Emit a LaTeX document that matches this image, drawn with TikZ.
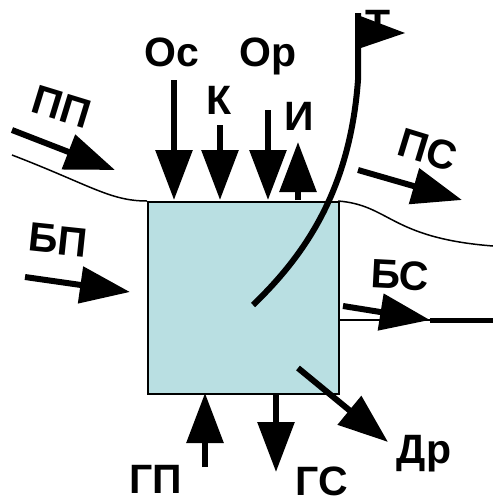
\documentclass[tikz,border=0pt]{standalone}
\usepackage{fontspec}
\setmainfont{Liberation Sans}
\usetikzlibrary{arrows.meta}
\definecolor{WBBox}{HTML}{B9DFE2}

\begin{document}
\begin{tikzpicture}[x=1pt,y=-1pt,font=\fontsize{41}{46}\selectfont\bfseries,
  flow/.style={line width=6pt,-{Triangle[length=50pt,width=36pt]}},
  lab/.style={inner sep=0pt,anchor=base}]
  \useasboundingbox (0,0) rectangle (493,499);
  % the water body and the ground surface
  \node[draw=black,line width=1.5pt,fill=WBBox,minimum width=191pt,minimum height=192pt,
        inner sep=0pt,anchor=north west] (box) at (147,201) {};
  \draw[line width=1.5pt] (12,155) .. controls (90,185) and (110,201) .. (147,201);
  \draw[line width=1.5pt] (338,201) .. controls (390,205) and (390,238) .. (493,246);
  % top inputs and evaporation
  \foreach \x/\y in {174/80,220/125,268/110}{
    \draw[flow] (\x,\y) -- (\x,200);
  }
  \draw[flow] (298,200) -- (298,142);
  \node[lab] (os) at (172,66) {Ос};
  \node[lab] (k) at (219,114) {К};
  \node[lab] (or) at (268,66) {Ор};
  \node[lab] (ii) at (299,130) {И};
  % surface and bank flows
  \draw[flow] (12,130) -- (115,170);
  \node[inner sep=0pt,rotate=-17] (pp) at (62,107) {ПП};
  \draw[flow] (358,170) -- (462,200);
  \node[inner sep=0pt,rotate=-17] (ps) at (428,150) {ПС};
  \draw[flow] (25,277) -- (130,292);
  \node[inner sep=0pt,rotate=-6] (bp) at (58,240) {БП};
  \draw[line width=1.5pt] (338,320) -- (430,320);
  \draw[line width=5pt] (430,320) -- (493,320);
  \draw[flow] (343,306) -- (430,320);
  \node[inner sep=0pt,rotate=-3] (bs) at (400,275) {БС};
  % groundwater and drainage
  \draw[flow] (205,467) -- (205,393);
  \draw[flow] (276,393) -- (276,472);
  \draw[flow] (298,368) -- (388,442);
  \node[lab] (gp) at (156,493) {ГП};
  \node[lab] (gs) at (322,495) {ГС};
  \node[lab] (dr) at (424,463) {Др};
  % flag
  \node[lab] (t) at (378,38) {Т};
  \draw[line width=6pt] (358,13) -- (358,80) .. controls (350,190) and (305,255) .. (253,305);
  \fill (355,14) -- (405,33) -- (355,50) -- cycle;
\end{tikzpicture}
\end{document}
